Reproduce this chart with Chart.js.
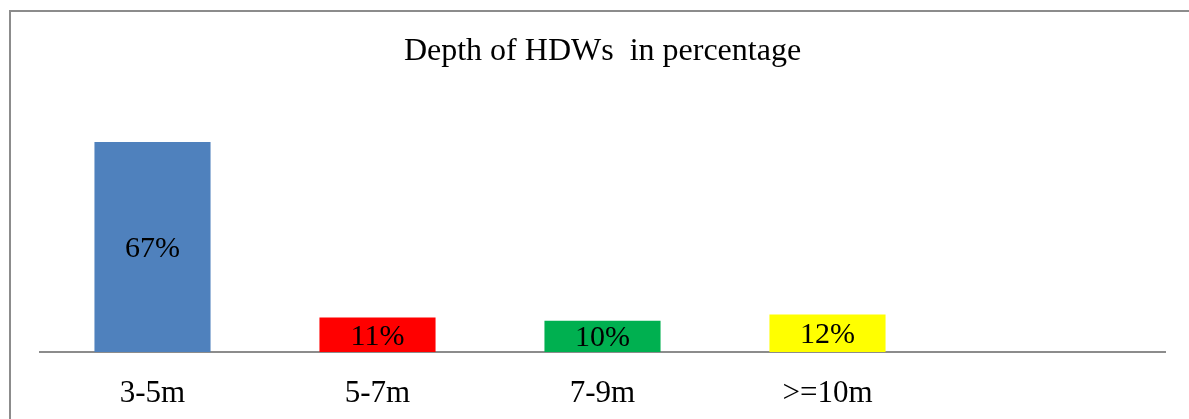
<!DOCTYPE html>
<html>
<head>
<meta charset="utf-8">
<script src="https://cdn.jsdelivr.net/npm/chart.js@4.4.0/dist/chart.umd.min.js"></script>
<style>
  html, body { margin: 0; padding: 0; background: #fff; overflow: hidden; }
  #frame {
    position: absolute; left: 9px; top: 10px; width: 1300px; height: 500px;
    border-left: 2px solid #8c8c8c; border-top: 2px solid #8c8c8c;
  }
  #wrap { position: absolute; left: 0; top: 0; width: 1189px; height: 419px; }
</style>
</head>
<body>
<div id="frame"></div>
<div id="wrap"><canvas id="chart"></canvas></div>
<script>
// data
const categories = ["3-5m", "5-7m", "7-9m", ">=10m", ""];
const percentages = [67, 11, 10, 12, null];
const barColors = ["#4f81bd", "#ff0000", "#00b050", "#ffff00", "#ffffff"];

Chart.defaults.font.family = "'Liberation Serif', 'Times New Roman', serif";
Chart.defaults.color = "#000";

// draws the value in the middle of each bar, like the Excel labels
const centerLabels = {
  id: "centerLabels",
  afterDatasetsDraw(chart) {
    const ctx = chart.ctx;
    const meta = chart.getDatasetMeta(0);
    ctx.save();
    ctx.font = "30px 'Liberation Serif', 'Times New Roman', serif";
    ctx.fillStyle = "#000";
    ctx.textAlign = "center";
    ctx.textBaseline = "middle";
    meta.data.forEach((bar, i) => {
      const v = percentages[i];
      if (v == null) return;
      ctx.fillText(v + "%", bar.x, (bar.y + bar.base) / 2 + 2);
    });
    ctx.restore();
  }
};

const ctx = document.getElementById("chart").getContext("2d");
new Chart(ctx, {
  type: "bar",
  data: {
    labels: categories,
    datasets: [{
      data: percentages,
      backgroundColor: barColors,
      borderWidth: 0,
      categoryPercentage: 1,
      barPercentage: 0.516
    }]
  },
  options: {
    responsive: true,
    maintainAspectRatio: false,
    animation: false,
    layout: { padding: { left: 40, right: 24, top: 0, bottom: 7 } },
    plugins: {
      legend: { display: false },
      tooltip: { enabled: false },
      title: {
        display: true,
        text: "Depth of HDWs  in percentage",
        color: "#000",
        font: { size: 32, weight: "normal" },
        padding: { top: 32, bottom: 31 }
      }
    },
    scales: {
      x: {
        grid: { display: false, drawTicks: false },
        border: { display: true, color: "#8c8c8c", width: 2 },
        ticks: { font: { size: 31 }, padding: 23, color: "#000" },
        afterFit(scale) { scale.height = 60; }
      },
      y: {
        display: false,
        min: 0,
        max: 80
      }
    }
  },
  plugins: [centerLabels]
});
</script>
</body>
</html>
